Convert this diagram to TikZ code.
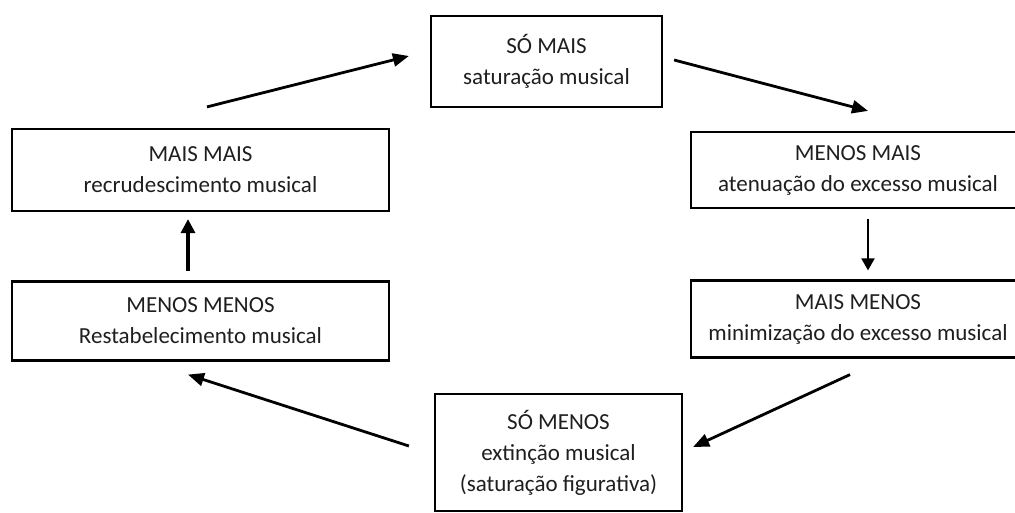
\documentclass[tikz,border=0pt]{standalone}
\usepackage{fontspec}
\setmainfont{Carlito}
\usetikzlibrary{arrows.meta}
\begin{document}
\begin{tikzpicture}[x=1pt,y=-1pt,
  stage/.style={draw=black,line width=2.2pt,align=center,inner sep=0pt,
    font=\fontsize{23}{31}\selectfont,text=black!88},
  flow/.style={line width=2.8pt,-{Triangle[length=16pt,width=13pt]}},
  thinflow/.style={line width=2pt,-{Triangle[length=12pt,width=13pt]}},
  thickflow/.style={line width=3.2pt,-{Triangle[length=14pt,width=14pt]}}]
\clip (0,0) rectangle (1015,513);
\fill[white] (0,0) rectangle (1015,513);

% the six stages of the cycle
\node[stage,minimum width=231pt,minimum height=91pt] (somais) at (546.5,61.5)
  {SÓ MAIS\\saturação musical};
\node[stage,minimum width=377pt,minimum height=82pt] (maismais) at (200.5,170)
  {MAIS MAIS\\recrudescimento musical};
\node[stage,minimum width=334pt,minimum height=76pt] (menosmais) at (858,170)
  {MENOS MAIS\\atenuação do excesso musical};
\node[stage,minimum width=377pt,minimum height=79pt] (menosmenos) at (200.5,321)
  {MENOS MENOS\\Restabelecimento musical};
\node[stage,minimum width=334pt,minimum height=77pt] (maismenos) at (858,319)
  {MAIS MENOS\\minimização do excesso musical};
\node[stage,minimum width=247pt,minimum height=117pt] (somenos) at (558.5,452.5)
  {SÓ MENOS\\extinção musical\\(saturação figurativa)};

% free ends of the connectors, kept clear of the boxes
\coordinate (t1) at ([shift={(6.5,-21)}]maismais.north);
\coordinate (h1) at ([shift={(-21,-5.5)}]somais.west);
\coordinate (t2) at ([shift={(11,-1.5)}]somais.east);
\coordinate (h2) at ([shift={(10,-20)}]menosmais.north);
\coordinate (t3) at ([shift={(10,10)}]menosmais.south);
\coordinate (h3) at ([shift={(10,-9)}]maismenos.north);
\coordinate (t4) at ([shift={(-8,16)}]maismenos.south);
\coordinate (h4) at ([shift={(10,-5.5)}]somenos.east);
\coordinate (t5) at ([shift={(-25,-6.5)}]somenos.west);
\coordinate (h5) at ([shift={(-12.5,13)}]menosmenos.south);
\coordinate (t6) at ([shift={(-12.5,-9)}]menosmenos.north);
\coordinate (h6) at ([shift={(-12.5,7)}]maismais.south);

% the cycle
\draw[flow] (t1) -- (h1);
\draw[flow] (t2) -- (h2);
\draw[thinflow] (t3) -- (h3);
\draw[flow] (t4) -- (h4);
\draw[flow] (t5) -- (h5);
\draw[thickflow] (t6) -- (h6);
\end{tikzpicture}
\end{document}
